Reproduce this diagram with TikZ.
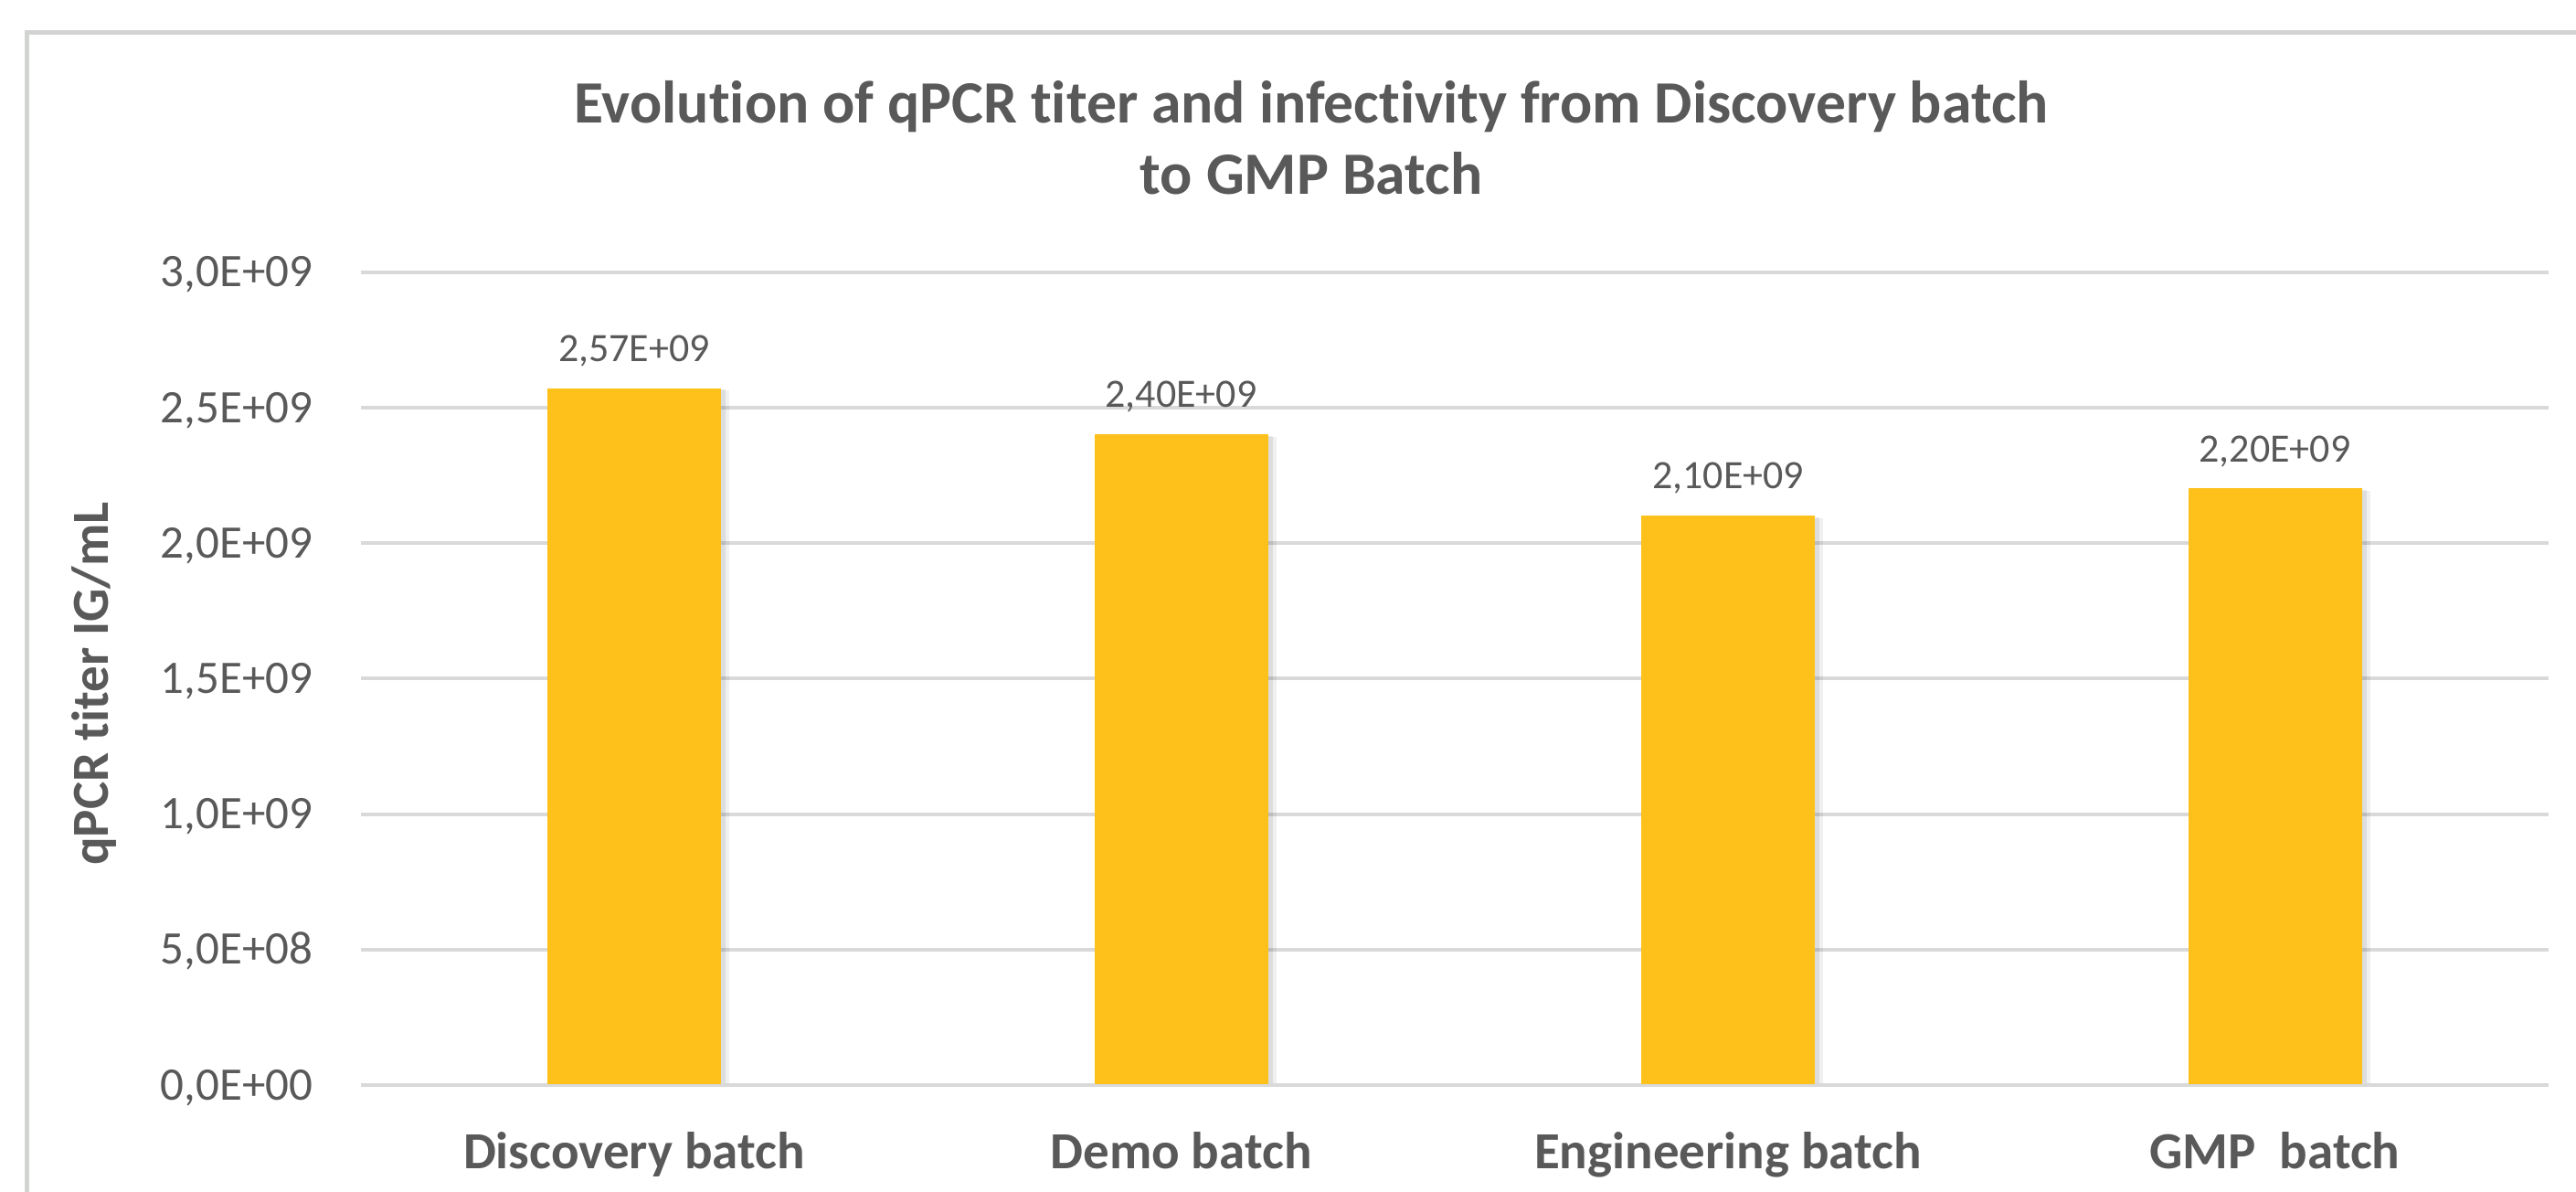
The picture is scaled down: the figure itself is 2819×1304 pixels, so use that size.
\documentclass[tikz,border=0pt]{standalone}
\usepackage{fontspec}
\setmainfont{Carlito}[RawFeature={-liga}]
\definecolor{txt}{HTML}{595959}
\definecolor{grid}{HTML}{D9D9D9}
\definecolor{frame}{HTML}{D2D4D2}
\definecolor{bar}{HTML}{FEC11B}
\begin{document}
\begin{tikzpicture}[x=0.3pt,y=-0.3pt,
  gridline/.style={draw=grid,line width=1.2pt},
  ticklbl/.style={anchor=base east,text=txt,font=\fontsize{15.3}{18}\selectfont,inner sep=0pt},
  vallbl/.style={anchor=base,text=txt,font=\fontsize{13.2}{16}\selectfont,inner sep=0pt},
  catlbl/.style={anchor=base,text=txt,font=\bfseries\fontsize{17.1}{20}\selectfont,inner sep=0pt},
  titlelbl/.style={anchor=base,text=txt,font=\bfseries\fontsize{19.7}{23}\selectfont,inner sep=0pt},
  barbox/.style={fill=bar,draw=none},
  shadowbox/.style={fill=black,draw=none}
]
\useasboundingbox (0,0) rectangle (2819,1304);
\fill[white] (0,0) rectangle (2819,1304);
% frame
\draw[draw=frame,line width=1.5pt] (29,1320) -- (29,36) -- (2830,36);
% title
\node[titlelbl] (t1) at (1435,135) {Evolution of qPCR titer and infectivity from Discovery batch};
\node[titlelbl] (t2) at (1435,213) {to GMP Batch};
% gridlines and tick labels
\foreach \k/\lab in {0/{0,0E+00},1/{5,0E+08},2/{1,0E+09},3/{1,5E+09},4/{2,0E+09},5/{2,5E+09},6/{3,0E+09}}{
  \pgfmathsetmacro\yy{1187-\k*148.17}
  \draw[gridline] (395,\yy) -- (2789,\yy);
  \node[ticklbl] (tick\k) at (343,\yy+16) {\lab};
}
% axis title
\node[rotate=90,anchor=base,text=txt,font=\bfseries\fontsize{17.1}{20}\selectfont,inner sep=0pt] (ytitle) at (118,748) {qPCR titer IG/mL};
% bars
\foreach \i/\cx/\v/\lab/\cat in {1/694/2.57/{2,57E+09}/{Discovery batch},2/1292.5/2.40/{2,40E+09}/{Demo batch},3/1891/2.10/{2,10E+09}/{Engineering batch},4/2489.5/2.20/{2,20E+09}/{GMP\ \ batch}}{
  \pgfmathsetmacro\top{1187-\v/3*889}
  \fill[shadowbox,opacity=0.06] (\cx-95+2,\top+2) rectangle (\cx+95+9,1185);
  \fill[shadowbox,opacity=0.08] (\cx-95+1,\top+1) rectangle (\cx+95+5,1185);
  \node[barbox,minimum width=190*0.3pt,minimum height={(1187-\top)*0.3pt},inner sep=0pt,anchor=south] (bar\i) at (\cx,1187) {};
  \node[vallbl] (val\i) at (\cx,\top-30) {\lab};
  \node[catlbl] (cat\i) at (\cx,1278) {\cat};
}
\end{tikzpicture}
\end{document}
